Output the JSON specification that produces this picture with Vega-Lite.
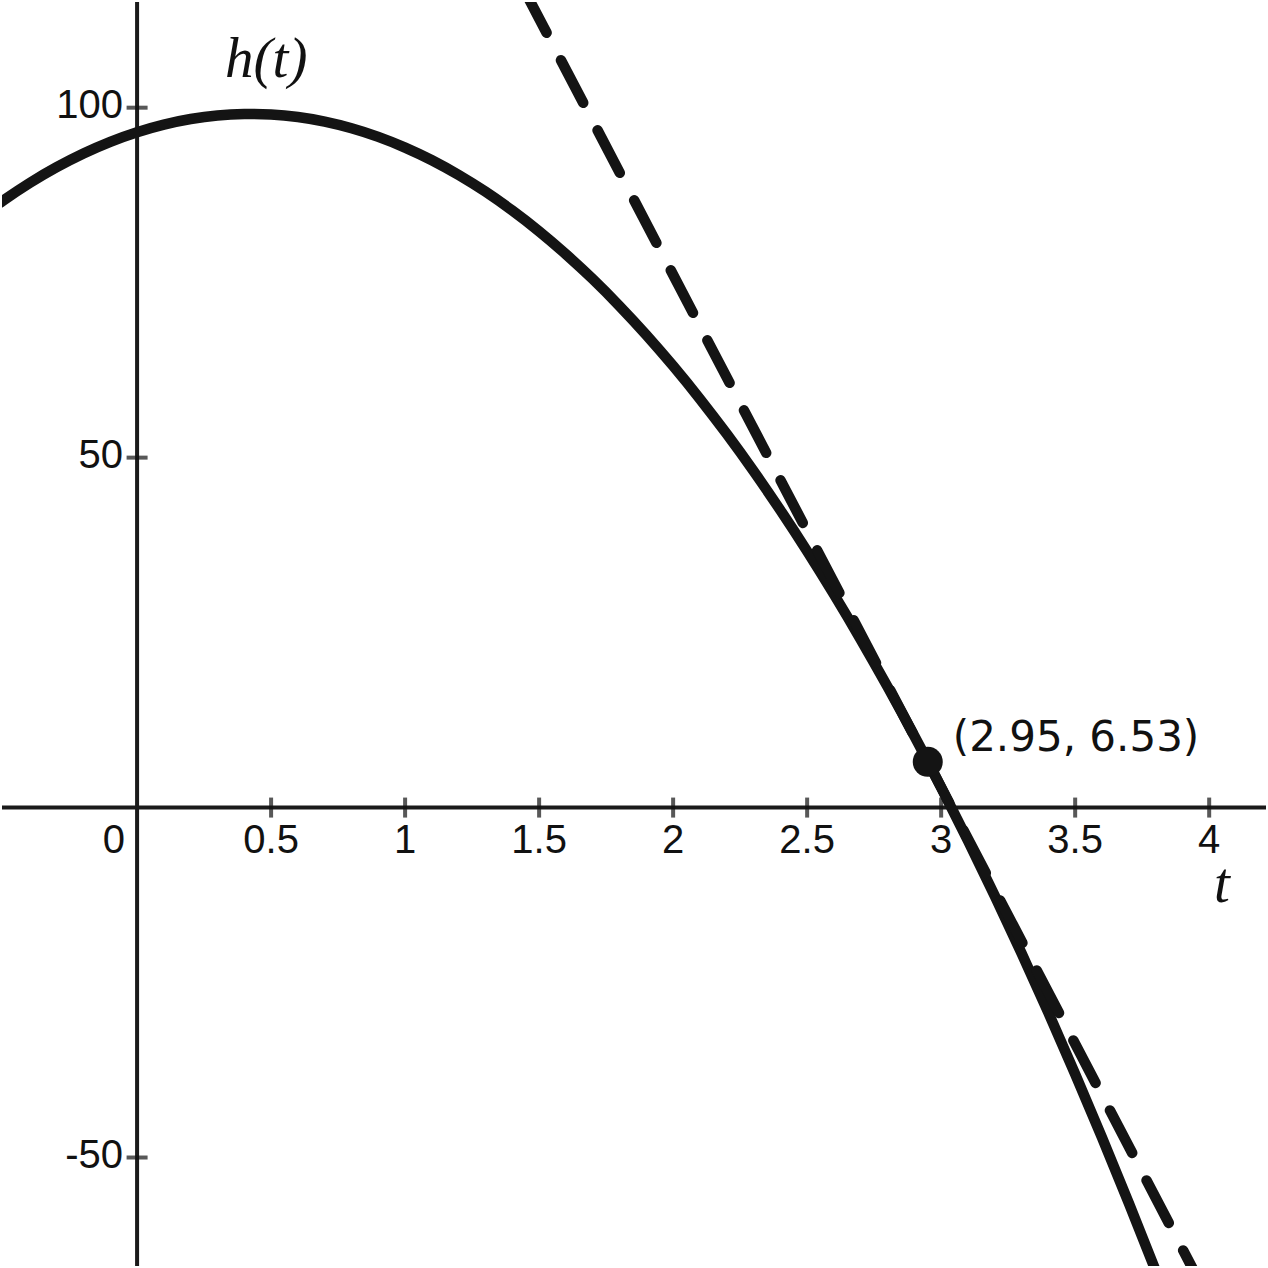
{
  "$schema": "https://vega.github.io/schema/vega-lite/v6.json",
  "width": 1268,
  "height": 1268,
  "autosize": {"type": "fit", "contains": "padding"},
  "padding": 0,
  "background": "white",
  "config": {"view": {"stroke": null}},
  "datasets": {
    "curve": [
      {"t": -0.55, "h": 85.35}, {"t": -0.5, "h": 86.73}, {"t": -0.4, "h": 89.26}, {"t": -0.3, "h": 91.51},
      {"t": -0.2, "h": 93.46}, {"t": -0.1, "h": 95.13}, {"t": 0.0, "h": 96.5}, {"t": 0.1, "h": 97.59},
      {"t": 0.2, "h": 98.38}, {"t": 0.3, "h": 98.89}, {"t": 0.4, "h": 99.10}, {"t": 0.5, "h": 99.03},
      {"t": 0.6, "h": 98.66}, {"t": 0.7, "h": 98.01}, {"t": 0.8, "h": 97.06}, {"t": 0.9, "h": 95.83},
      {"t": 1.0, "h": 94.30}, {"t": 1.1, "h": 92.49}, {"t": 1.2, "h": 90.38}, {"t": 1.3, "h": 87.99},
      {"t": 1.4, "h": 85.30}, {"t": 1.5, "h": 82.33}, {"t": 1.6, "h": 79.06}, {"t": 1.7, "h": 75.51},
      {"t": 1.8, "h": 71.66}, {"t": 1.9, "h": 67.53}, {"t": 2.0, "h": 63.10}, {"t": 2.1, "h": 58.39},
      {"t": 2.2, "h": 53.38}, {"t": 2.3, "h": 48.09}, {"t": 2.4, "h": 42.50}, {"t": 2.5, "h": 36.63},
      {"t": 2.6, "h": 30.46}, {"t": 2.7, "h": 24.01}, {"t": 2.8, "h": 17.26}, {"t": 2.9, "h": 10.23},
      {"t": 3.0, "h": 2.90}, {"t": 3.1, "h": -4.72}, {"t": 3.2, "h": -12.62}, {"t": 3.3, "h": -20.82},
      {"t": 3.4, "h": -29.30}, {"t": 3.5, "h": -38.08}, {"t": 3.6, "h": -47.14}, {"t": 3.7, "h": -56.50},
      {"t": 3.8, "h": -66.14}, {"t": 3.9, "h": -76.08}
    ],
    "tangent": [{"t": 1.4, "h": 120.07}, {"t": 4.05, "h": -74.05}],
    "point": [{"t": 2.95, "h": 6.53, "label": "(2.95, 6.53)"}],
    "vaxis": [{"t": 0}],
    "haxis": [{"h": 0}],
    "xticks": [
      {"t": 0.5, "h": 0, "label": "0.5"}, {"t": 1, "h": 0, "label": "1"}, {"t": 1.5, "h": 0, "label": "1.5"},
      {"t": 2, "h": 0, "label": "2"}, {"t": 2.5, "h": 0, "label": "2.5"}, {"t": 3, "h": 0, "label": "3"},
      {"t": 3.5, "h": 0, "label": "3.5"}, {"t": 4, "h": 0, "label": "4"}
    ],
    "yticks": [
      {"t": 0, "h": 100, "label": "100"}, {"t": 0, "h": 50, "label": "50"}, {"t": 0, "h": -50, "label": "-50"}
    ],
    "zero": [{"t": 0, "h": 0, "label": "0"}],
    "titles": [{"t": 0.482, "h": 104.4, "label": "h(t)"}, {"t": 4.048, "h": -13.5, "label": "t"}]
  },
  "layer": [
    {
      "data": {"name": "vaxis"},
      "mark": {"type": "rule", "color": "#1a1a1a", "strokeWidth": 4},
      "encoding": {
        "x": {"field": "t", "type": "quantitative", "axis": null, "scale": {"domain": [-0.504, 4.212], "nice": false, "zero": false}}
      }
    },
    {
      "data": {"name": "haxis"},
      "mark": {"type": "rule", "color": "#1a1a1a", "strokeWidth": 4},
      "encoding": {
        "y": {"field": "h", "type": "quantitative", "axis": null, "scale": {"domain": [-65.5, 115.1], "nice": false, "zero": false}}
      }
    },
    {
      "data": {"name": "xticks"},
      "mark": {"type": "tick", "orient": "vertical", "color": "#111111", "thickness": 4, "size": 20},
      "encoding": {
        "x": {"field": "t", "type": "quantitative"},
        "y": {"field": "h", "type": "quantitative"}
      }
    },
    {
      "data": {"name": "yticks"},
      "mark": {"type": "tick", "orient": "horizontal", "color": "#111111", "thickness": 4, "size": 21},
      "encoding": {
        "x": {"field": "t", "type": "quantitative"},
        "y": {"field": "h", "type": "quantitative"}
      }
    },
    {
      "data": {"name": "curve"},
      "mark": {"type": "line", "interpolate": "natural", "clip": true, "color": "#141414", "strokeWidth": 10.5},
      "encoding": {
        "x": {"field": "t", "type": "quantitative"},
        "y": {"field": "h", "type": "quantitative"}
      }
    },
    {
      "data": {"name": "tangent"},
      "mark": {"type": "line", "clip": true, "color": "#141414", "strokeWidth": 10.5, "strokeDash": [48, 31], "strokeDashOffset": 53, "strokeCap": "round"},
      "encoding": {
        "x": {"field": "t", "type": "quantitative"},
        "y": {"field": "h", "type": "quantitative"}
      }
    },
    {
      "data": {"name": "point"},
      "mark": {"type": "circle", "color": "#141414", "opacity": 1, "size": 900},
      "encoding": {
        "x": {"field": "t", "type": "quantitative"},
        "y": {"field": "h", "type": "quantitative"}
      }
    },
    {
      "data": {"name": "point"},
      "mark": {"type": "text", "font": "DejaVu Sans", "fontSize": 42, "align": "left", "baseline": "alphabetic", "dx": 25, "dy": -11, "color": "#111111"},
      "encoding": {
        "x": {"field": "t", "type": "quantitative"},
        "y": {"field": "h", "type": "quantitative"},
        "text": {"field": "label"}
      }
    },
    {
      "data": {"name": "xticks"},
      "mark": {"type": "text", "font": "Liberation Sans", "fontSize": 40, "align": "center", "baseline": "alphabetic", "dy": 45, "color": "#111111"},
      "encoding": {
        "x": {"field": "t", "type": "quantitative"},
        "y": {"field": "h", "type": "quantitative"},
        "text": {"field": "label"}
      }
    },
    {
      "data": {"name": "zero"},
      "mark": {"type": "text", "font": "Liberation Sans", "fontSize": 40, "align": "right", "baseline": "alphabetic", "dx": -12, "dy": 45, "color": "#111111"},
      "encoding": {
        "x": {"field": "t", "type": "quantitative"},
        "y": {"field": "h", "type": "quantitative"},
        "text": {"field": "label"}
      }
    },
    {
      "data": {"name": "yticks"},
      "mark": {"type": "text", "font": "Liberation Sans", "fontSize": 40, "align": "right", "baseline": "middle", "dx": -14, "dy": -2, "color": "#111111"},
      "encoding": {
        "x": {"field": "t", "type": "quantitative"},
        "y": {"field": "h", "type": "quantitative"},
        "text": {"field": "label"}
      }
    },
    {
      "data": {"name": "titles"},
      "mark": {"type": "text", "font": "Liberation Serif", "fontStyle": "italic", "fontSize": 57, "align": "center", "baseline": "alphabetic", "color": "#111111"},
      "encoding": {
        "x": {"field": "t", "type": "quantitative"},
        "y": {"field": "h", "type": "quantitative"},
        "text": {"field": "label"}
      }
    }
  ]
}
